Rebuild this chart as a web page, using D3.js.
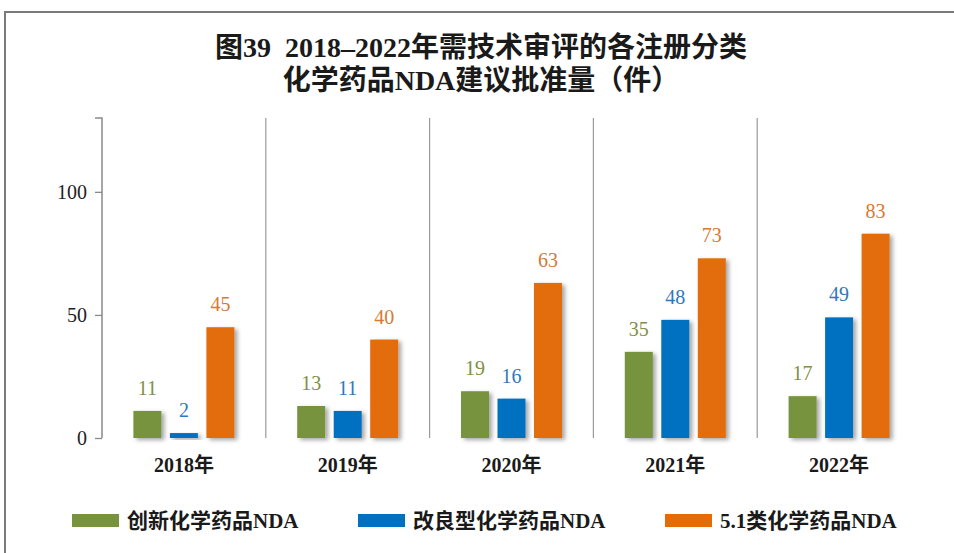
<!DOCTYPE html>
<html>
<head>
<meta charset="utf-8">
<script src="https://cdn.jsdelivr.net/npm/d3@7"></script>
<style>
  html, body { margin: 0; padding: 0; background: #fff; }
  svg { display: block; }
  .num { font-family: "Liberation Serif", "DejaVu Serif", serif; }
  .cjk { font-family: "Liberation Serif", "Noto Sans CJK SC", serif; }
</style>
</head>
<body>
<svg id="chart" width="954" height="553"></svg>
<script>
// data
const years = ['2018年', '2019年', '2020年', '2021年', '2022年'];
const seriesNames = ['创新化学药品NDA', '改良型化学药品NDA', '5.1类化学药品NDA'];
const innovative = [11, 13, 19, 35, 17];
const improved = [2, 11, 16, 48, 49];
const class51 = [45, 40, 63, 73, 83];
const yTicks = [0, 50, 100];

const barColors = ['#77933c', '#0070c0', '#e36c09'];
const labelColors = ['#7f8f45', '#2f78bd', '#d67a33'];

const values = [innovative, improved, class51];
const rows = years.map((y, i) => ({year: y, vals: values.map(v => v[i])}));

const svg = d3.select('#chart');
const W = 954, H = 553;
const plotL = 102, plotR = 921, plotT = 118, plotB = 438;

const defs = svg.append('defs');
const f = defs.append('filter').attr('id', 'shadow').attr('x', '-20%').attr('y', '-20%').attr('width', '160%').attr('height', '160%');
f.append('feDropShadow').attr('dx', 3).attr('dy', 2).attr('stdDeviation', 2)
  .attr('flood-color', '#000').attr('flood-opacity', 0.35);

// outer frame (top + left edge)
svg.append('path').attr('d', `M5,${H} L5,12 L${W},12`).attr('fill', 'none')
  .attr('stroke', '#7a7a7a').attr('stroke-width', 2);

// title
const title = svg.append('g').attr('class', 'cjk').attr('text-anchor', 'middle')
  .style('font-weight', 'bold').style('font-size', '28px').attr('fill', '#1a1a1a');
title.append('text').attr('x', 481).attr('y', 57).text('图39\u00a0 2018–2022年需技术审评的各注册分类');
title.append('text').attr('x', 481).attr('y', 90).text('化学药品NDA建议批准量（件）');

const x0 = d3.scaleBand().domain(years).range([plotL, plotR]).padding(0);
const cx = x0.bandwidth() / 2;
const x1 = d3.scaleBand().domain(seriesNames).range([cx - 50.5, cx + 50.5]).paddingInner(0.233).paddingOuter(0);
const y = d3.scaleLinear().domain([0, 130]).range([plotB, plotT]);

// category separators
const seps = years.slice(1).map(d => x0(d));
svg.append('g').selectAll('line').data(seps).enter().append('line')
  .attr('x1', d => d).attr('x2', d => d).attr('y1', plotT).attr('y2', plotB)
  .attr('stroke', '#9a9a9a').attr('stroke-width', 1.2);
// right edge with shadow
svg.append('line').attr('x1', plotR).attr('x2', plotR).attr('y1', plotT).attr('y2', plotB)
  .attr('stroke', '#a0a0a0').attr('stroke-width', 1.5).attr('filter', 'url(#shadow)');

// y axis
const yAxis = svg.append('g').attr('transform', `translate(${plotL},0)`)
  .call(d3.axisLeft(y).tickValues(yTicks).tickSize(7).tickPadding(8));
yAxis.select('.domain').attr('stroke', '#8a8a8a').attr('stroke-width', 1.5)
  .attr('d', `M-7,${plotT}H0V${plotB}`);
yAxis.selectAll('.tick line').attr('stroke', '#8a8a8a').attr('stroke-width', 1.3);
yAxis.selectAll('.tick text').attr('class', 'num').style('font-size', '20px').attr('fill', '#222');

// bars
const groups = svg.append('g').selectAll('g').data(rows).enter().append('g')
  .attr('transform', d => `translate(${x0(d.year)},0)`);

groups.selectAll('rect').data(d => d.vals.map((v, i) => ({v, i}))).enter().append('rect')
  .attr('x', d => x1(seriesNames[d.i]))
  .attr('width', x1.bandwidth())
  .attr('y', d => y(d.v))
  .attr('height', d => y(0) - y(d.v))
  .attr('fill', d => barColors[d.i])
  .attr('filter', 'url(#shadow)');

groups.selectAll('text').data(d => d.vals.map((v, i) => ({v, i}))).enter().append('text')
  .attr('class', 'num')
  .attr('x', d => x1(seriesNames[d.i]) + x1.bandwidth() / 2)
  .attr('y', d => y(d.v) - 16)
  .attr('text-anchor', 'middle')
  .style('font-size', '20px')
  .attr('fill', d => labelColors[d.i])
  .text(d => d.v);

// x baseline with shadow
svg.append('line').attr('x1', plotL).attr('x2', plotR + 1).attr('y1', plotB).attr('y2', plotB)
  .attr('stroke', '#9a9a9a').attr('stroke-width', 2).attr('filter', 'url(#shadow)');

// x labels
svg.append('g').selectAll('text').data(years).enter().append('text')
  .attr('class', 'cjk')
  .attr('x', d => x0(d) + cx).attr('y', 472)
  .attr('text-anchor', 'middle')
  .style('font-size', '20px').style('font-weight', 'bold').attr('fill', '#1a1a1a')
  .text(d => d);

// legend
const legendX = [72, 358, 665];
const legend = svg.append('g').selectAll('g').data(seriesNames).enter().append('g')
  .attr('transform', (d, i) => `translate(${legendX[i]},514)`);
legend.append('rect').attr('width', 47).attr('height', 13).attr('fill', (d, i) => barColors[i]);
legend.append('text').attr('class', 'cjk').attr('x', 55).attr('y', 14)
  .style('font-size', '21px').style('font-weight', 'bold').attr('fill', '#1a1a1a')
  .text(d => d);
</script>
</body>
</html>
